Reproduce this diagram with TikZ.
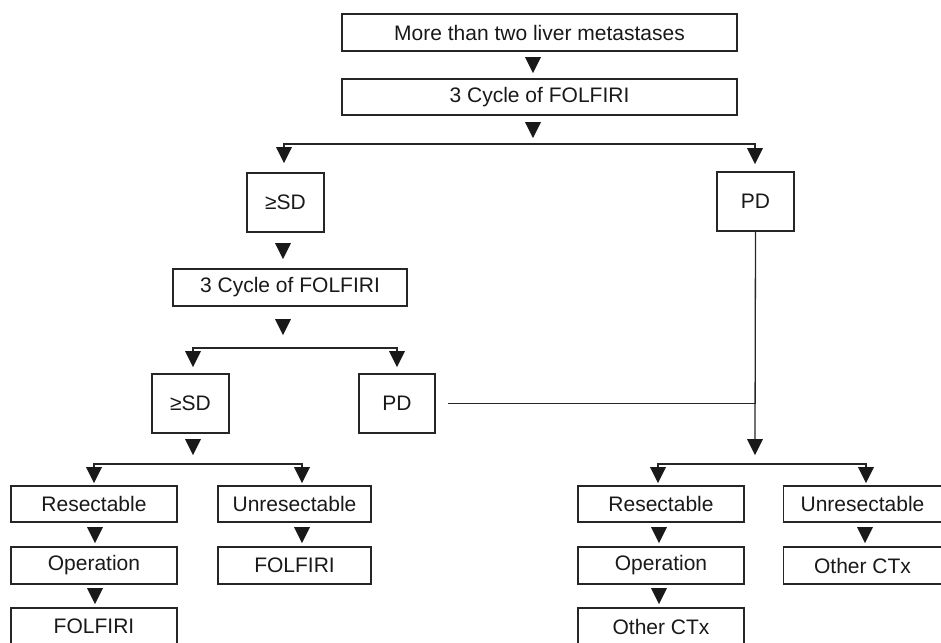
\documentclass[tikz,border=0pt]{standalone}
\usepackage{fontspec}
\setmainfont{Liberation Sans}
\usetikzlibrary{shapes.geometric,calc}
\begin{document}
\begin{tikzpicture}[x=1pt,y=-1pt,
  box/.style={draw=black!85, line width=1.3pt, inner sep=0pt, font=\fontsize{21}{24}\selectfont, text=black!90},
  tri/.style={isosceles triangle, isosceles triangle stretches, shape border rotate=-90, fill=black!90, draw=none, minimum width=16pt, minimum height=16pt, inner sep=0pt, anchor=north},
  conn/.style={line width=1.3pt, draw=black!85}]
\useasboundingbox (0,0) rectangle (941,642);
\clip (0,0) rectangle (941,642);
% boxes
\node[box, minimum width=395pt, minimum height=37pt] (top) at (539.5,32.5) {More than two liver metastases};
\node[box, minimum width=395pt, minimum height=36pt] (c1) at (539.5,97) {3 Cycle of FOLFIRI};
\node[box, minimum width=77pt, minimum height=59pt] (sd1) at (285.5,202.5) {≥SD};
\node[box, minimum width=77pt, minimum height=59pt] (pd1) at (755.5,201.5) {PD};
\node[box, minimum width=234pt, minimum height=37pt] (c2) at (290,287.5) {3 Cycle of FOLFIRI};
\node[box, minimum width=77pt, minimum height=59pt] (sd2) at (190.5,403.5) {≥SD};
\node[box, minimum width=76pt, minimum height=59pt] (pd2) at (397,403.5) {PD};
\node[box, minimum width=166pt, minimum height=36pt] (resL) at (94,504) {Resectable};
\node[box, minimum width=166pt, minimum height=37pt] (opL) at (94,565.5) {Operation};
\node[box, minimum width=166pt, minimum height=37pt] (folL) at (94,626.5) {FOLFIRI};
\node[box, minimum width=153pt, minimum height=36pt] (unL) at (294.5,504) {Unresectable};
\node[box, minimum width=153pt, minimum height=37pt] (folL2) at (294.5,565.5) {FOLFIRI};
\node[box, minimum width=166pt, minimum height=36pt] (resR) at (661,504) {Resectable};
\node[box, minimum width=166pt, minimum height=37pt] (opR) at (661,565.5) {Operation};
\node[box, minimum width=166pt, minimum height=37pt] (ctxR) at (661,626.5) {Other CTx};
\node[box, minimum width=158pt, minimum height=36pt] (unR) at (862.5,504) {Unresectable};
\node[box, minimum width=158pt, minimum height=37pt] (ctxR2) at (862.5,565.5) {Other CTx};
% single triangles between boxes
\node[tri] (t1) at (533,57) {};
\node[tri] (t2) at (533,122) {};
\node[tri] (t3) at (283,243) {};
\node[tri] (t4) at (283,319) {};
\node[tri] (t5) at (193,439) {};
\node[tri] (t6) at (95,527) {};
\node[tri] (t7) at (95,588) {};
\node[tri] (t8) at (302,527) {};
\node[tri] (t9) at (659,527) {};
\node[tri] (t10) at (659,588) {};
\node[tri] (t11) at (865,527) {};
\node[tri] (tm) at (755,439) {};
% branch triangles
\node[tri] (bA) at (284,147) {};
\node[tri] (bB) at (755,148) {};
\node[tri] (bC) at (193,351) {};
\node[tri] (bD) at (397,351) {};
\node[tri] (bE) at (94,467) {};
\node[tri] (bF) at (302,467) {};
\node[tri] (bG) at (658,467) {};
\node[tri] (bH) at (866,467) {};
% connectors
\draw[conn] (bA.north) -- ++(0,-3) -| (bB.north);
\draw[conn] (bC.north) -- ++(0,-3) -| (bD.north);
\draw[conn] (bE.north) -- ++(0,-3) -| (bF.north);
\draw[conn] (bG.north) -- ++(0,-3) -| (bH.north);
\draw[conn] (pd1.south) -- (tm.north);
\coordinate (pdstart) at ($(pd2.east)+(12,0)$);
\draw[conn] (pdstart) -- (pd1.south |- pd2.east);
\end{tikzpicture}
\end{document}
